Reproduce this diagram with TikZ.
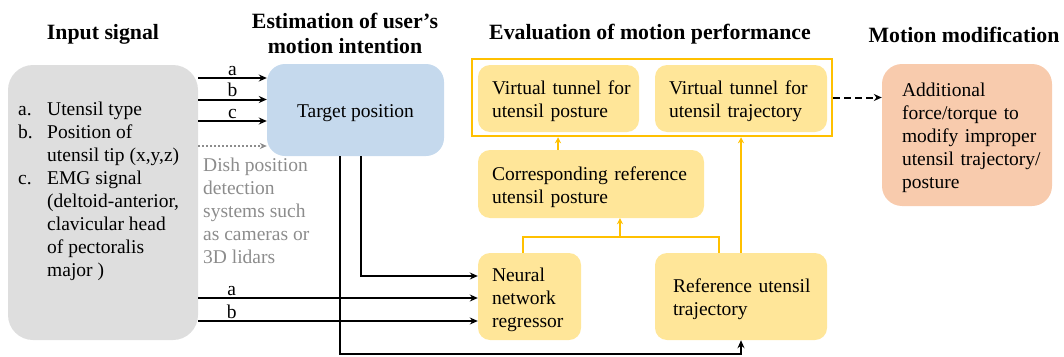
\documentclass[tikz,border=0pt]{standalone}
\usepackage{fontspec}
\setmainfont{Liberation Serif}
\usetikzlibrary{arrows.meta}
\definecolor{grayfill}{RGB}{222,222,222}
\definecolor{bluefill}{RGB}{197,217,237}
\definecolor{yelfill}{RGB}{255,230,153}
\definecolor{yelline}{RGB}{255,192,0}
\definecolor{peach}{RGB}{248,203,173}
\definecolor{dishgray}{RGB}{140,140,140}
\newcommand{\bodyfont}{\fontsize{19.5}{23.1}\selectfont}
\newcommand{\headfont}{\fontsize{21.8}{25}\selectfont\bfseries}
\newcommand{\topstrut}{\leavevmode\vrule height 19.5pt depth 0pt width 0pt}
\tikzset{
  box/.style={rounded corners=12pt, draw=none, font=\bodyfont, align=left, inner xsep=14pt, inner ysep=0pt,
    execute at begin node={\hyphenpenalty=10000\exhyphenpenalty=10000}},
  head/.style={font=\headfont, align=center, inner sep=0pt},
  arr/.style={line width=2pt, -{Stealth[length=8pt,width=7pt]}},
  oline/.style={line width=2.5pt, draw=yelline},
  oarr/.style={oline, -{Stealth[length=6pt,width=6pt]}},
  lab/.style={font=\bodyfont, inner sep=1.5pt, above}
}
\begin{document}
\begin{tikzpicture}[x=1pt,y=-1pt]
\useasboundingbox (0,0) rectangle (1064,356);
% headers
\node[head] (h1) at (103,34.5) {Input signal};
\node[head] (h2) at (345,33) {Estimation of user's\\motion intention};
\node[head] (h3) at (650,34.5) {Evaluation of motion performance};
\node[head] (h4) at (964,34.5) {Motion modification};
% input box
\node[box, fill=grayfill, rounded corners=25pt, minimum width=190pt, minimum height=275pt] (input) at (103,202.5) {};
\node[font=\bodyfont, align=left, inner sep=0pt, anchor=north west] (inputtext) at (18,101.5) {%
\makebox[29pt][l]{a.}Utensil type\\
\makebox[29pt][l]{b.}Position of\\
\hspace*{29pt}utensil tip (x,y,z)\\
\makebox[29pt][l]{c.}EMG signal\\
\hspace*{29pt}(deltoid-anterior,\\
\hspace*{29pt}clavicular head\\
\hspace*{29pt}of pectoralis\\
\hspace*{29pt}major )};
% target
\node[box, fill=bluefill, rounded corners=18pt, align=center, minimum width=177pt, minimum height=92pt] (target) at (355.5,110) {\topstrut Target position};
\node[font=\bodyfont, text=dishgray, align=left, inner sep=0pt, anchor=west] (dish) at (203,211) {Dish position\\detection\\systems such\\as cameras or\\3D lidars};
% evaluation group
\node[draw=yelline, line width=2.5pt, minimum width=360pt, minimum height=77pt, inner sep=0pt] (group) at (652,97.5) {};
\node[box, fill=yelfill, text width=133pt, minimum height=67pt] (vtp) at (558.5,98.5) {\topstrut Virtual~tunnel~for\\utensil~posture};
\node[box, fill=yelfill, text width=144pt, minimum height=67pt] (vtt) at (741,98.5) {\topstrut Virtual~tunnel~for\\utensil~trajectory};
\node[box, fill=yelfill, text width=198pt, minimum height=68pt] (corr) at (591,184) {\topstrut Corresponding~reference\\utensil~posture};
\node[box, fill=yelfill, text width=75pt, minimum height=87pt] (nn) at (529.5,296.5) {\topstrut Neural\\network\\regressor};
\node[box, fill=yelfill, inner xsep=18pt, text width=136pt, minimum height=87pt] (refT) at (741,296.5) {\topstrut Reference~utensil\\trajectory};
% modification
\node[box, fill=peach, rounded corners=20pt, inner xsep=20pt, text width=130pt, minimum height=142pt] (mod) at (967,135) {\topstrut Additional\\force/torque~to\\modify~improper\\utensil~trajectory/\\posture};
% input -> target
\draw[arr] (input.east |- 0,78) -- node[lab] {a} (target.west |- 0,78);
\draw[arr] (input.east |- 0,99.5) -- node[lab] {b} (target.west |- 0,99.5);
\draw[arr] (input.east |- 0,121) -- node[lab] {c} (target.west |- 0,121);
\draw[line width=1.5pt, draw=dishgray, dash pattern=on 2pt off 2pt, -{Stealth[length=7pt,width=6pt]}] (input.east |- 0,146) -- (target.west |- 0,146);
% input -> nn
\draw[arr] (input.east |- 0,298) -- node[lab, pos=0.12] {a} (nn.west |- 0,298);
\draw[arr] (input.east |- 0,321) -- node[lab, pos=0.12] {b} (nn.west |- 0,321);
% target -> nn, target -> refT
\draw[arr] ([xshift=5.5pt]target.south) |- (nn.west |- 0,276);
\draw[arr] ([xshift=-15.5pt]target.south) -- ([xshift=-15.5pt]target.south |- 0,354) -| (refT.south);
% orange connectors
\coordinate (junc) at (620,237);
\draw[oline] ([xshift=-6.5pt]nn.north) |- ([xshift=-22pt]refT.north |- junc) -- ([xshift=-22pt]refT.north);
\draw[oarr] (junc) -- (junc |- corr.south);
\draw[oarr] ([xshift=-33pt]corr.north) -- ([xshift=-33pt]corr.north |- group.south);
\draw[oarr] (refT.north) -- (refT.north |- group.south);
% dashed
\draw[line width=2pt, dash pattern=on 7pt off 4pt, -{Stealth[length=8pt,width=7pt]}] (group.east) -- (mod.west |- group.east);
\end{tikzpicture}
\end{document}
